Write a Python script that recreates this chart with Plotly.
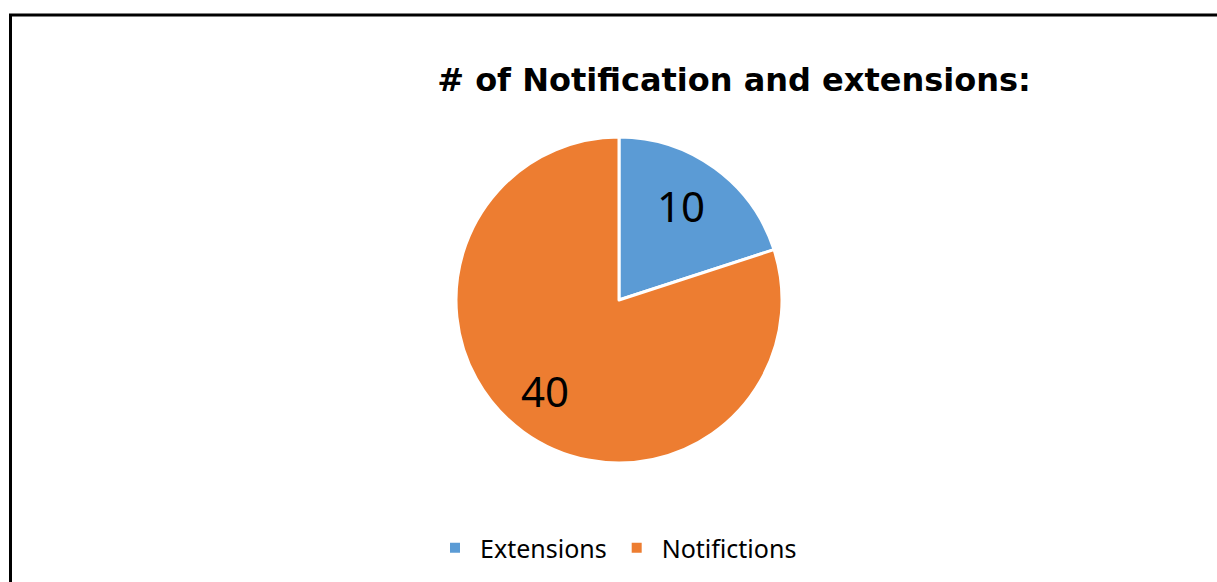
import math
import plotly.graph_objects as go

labels = ["Extensions", "Notifictions"]
values = [10, 40]
colors = ["#5B9BD5", "#ED7D31"]
title_text = "# of Notification and extensions:"

W, H = 1217, 582
cx, cy, r = 619, 300, 163

fig = go.Figure(go.Pie(
    labels=labels, values=values, sort=False, direction="clockwise", rotation=0,
    marker=dict(colors=colors, line=dict(color="white", width=3)),
    textinfo="none",
    domain=dict(x=[(cx - r) / W, (cx + r) / W], y=[1 - (cy + r) / H, 1 - (cy - r) / H]),
    hoverinfo="label+value",
))

# value labels placed along each slice's mid-angle (like the original data labels)
total = sum(values)
annotations = []
start = 0.0
for v in values:
    frac = v / total
    mid = (start + frac / 2) * 2 * math.pi
    start += frac
    rr = 0.705 * r
    px = cx + rr * math.sin(mid)
    py = cy - rr * math.cos(mid)
    annotations.append(dict(
        text=str(v), x=px / W, y=1 - py / H, xref="paper", yref="paper",
        xanchor="center", yanchor="middle", showarrow=False, xshift=-6, yshift=2,
        font=dict(family="Noto Sans", size=42, color="black"),
    ))

fig.update_layout(
    width=W, height=H, margin=dict(l=0, r=0, t=0, b=0),
    paper_bgcolor="white", plot_bgcolor="white",
    title=dict(text="<b>" + title_text + "</b>", x=734 / W, xanchor="center",
               y=1 - 80 / H, yanchor="middle",
               font=dict(family="DejaVu Sans", size=32, color="black")),
    legend=dict(orientation="h", x=616 / W, xanchor="center", y=1 - 548 / H, yanchor="middle",
                font=dict(family="Noto Sans", size=25, color="black"),
                itemsizing="constant", itemwidth=40, tracegroupgap=0),
    annotations=annotations,
    shapes=[
        dict(type="line", xref="paper", yref="paper", x0=10.5 / W, x1=10.5 / W, y0=0, y1=1 - 15 / H,
             line=dict(color="black", width=3)),
        dict(type="line", xref="paper", yref="paper", x0=9 / W, x1=1, y0=1 - 15 / H, y1=1 - 15 / H,
             line=dict(color="black", width=3)),
    ],
)

fig.write_html("out.html")
